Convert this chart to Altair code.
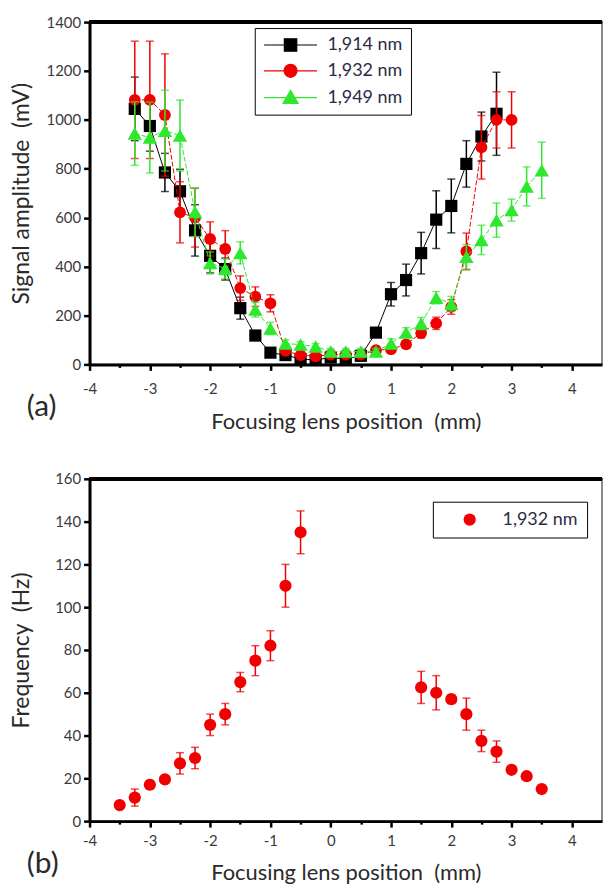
import altair as alt
import pandas as pd

# ---------------- data ----------------
series_names = ["1,914 nm", "1,932 nm", "1,949 nm"]
series_colors = ["#000000", "#f00000", "#2ee82e"]

x_914 = [-3.25, -3, -2.75, -2.5, -2.25, -2, -1.75, -1.5, -1.25, -1, -0.75, -0.5, -0.25,
         0, 0.25, 0.5, 0.75, 1, 1.25, 1.5, 1.75, 2, 2.25, 2.5, 2.75]
y_914 = [1045, 975, 785, 708, 548, 444, 390, 230, 118, 48, 38, 22, 18,
         28, 22, 35, 130, 287, 345, 455, 592, 648, 820, 932, 1025]
e_914 = [130, 103, 78, 90, 105, 70, 45, 45, 20, 15, 12, 10, 10,
         10, 10, 10, 15, 48, 65, 85, 118, 110, 95, 100, 170]

x_932 = [-3.25, -3, -2.75, -2.5, -2.25, -2, -1.75, -1.5, -1.25, -1, -0.75, -0.5, -0.25,
         0, 0.25, 0.5, 0.75, 1, 1.25, 1.5, 1.75, 2, 2.25, 2.5, 2.75, 3]
y_932 = [1082, 1082, 1020, 622, 600, 513, 472, 312, 277, 250, 55, 38, 33,
         40, 40, 40, 58, 62, 82, 128, 168, 235, 462, 888, 1000, 1000]
e_932 = [240, 240, 250, 125, 120, 70, 75, 50, 40, 35, 15, 12, 10,
         10, 10, 10, 12, 15, 15, 20, 25, 30, 75, 130, 115, 115]

x_949 = [-3.25, -3, -2.75, -2.5, -2.25, -2, -1.75, -1.5, -1.25, -1, -0.75, -0.5, -0.25,
         0, 0.25, 0.5, 0.75, 1, 1.25, 1.5, 1.75, 2, 2.25, 2.5, 2.75, 3, 3.25, 3.5]
y_949 = [944, 928, 956, 936, 623, 415, 391, 456, 224, 147, 85, 81, 73,
         53, 53, 53, 53, 85, 130, 167, 273, 248, 440, 509, 590, 631, 728, 794]
e_949 = [130, 145, 165, 145, 100, 45, 40, 45, 30, 25, 15, 12, 12,
         12, 12, 12, 12, 20, 20, 25, 25, 30, 50, 60, 70, 45, 80, 115]

x_freq = [-3.5, -3.25, -3, -2.75, -2.5, -2.25, -2, -1.75, -1.5, -1.25, -1, -0.75, -0.5,
          1.5, 1.75, 2, 2.25, 2.5, 2.75, 3, 3.25, 3.5]
y_freq = [7.5, 11, 17, 19.5, 27, 29.5, 45, 50, 65, 75, 82, 110, 135,
          62.5, 60, 57, 50, 37.5, 32.5, 24, 21, 15]
e_freq = [1.5, 4, 2, 1.5, 5, 5, 5, 5, 4.5, 7, 7, 10, 10,
          7.5, 8, 2, 7.5, 5, 5, 1.5, 1.5, 1.5]

x_tick_values = [-4, -3.5, -3, -2.5, -2, -1.5, -1, -0.5, 0, 0.5, 1, 1.5, 2, 2.5, 3, 3.5, 4]
y_top_ticks = [0, 100, 200, 300, 400, 500, 600, 700, 800, 900, 1000, 1100, 1200, 1300, 1400]
y_bot_ticks = [0, 10, 20, 30, 40, 50, 60, 70, 80, 90, 100, 110, 120, 130, 140, 150, 160]

FONT = "Lato"
TXT = "#3a3a3a"
TITLE_C = "#2a2a2a"


def make_df(xs, ys, es, name):
    return pd.DataFrame({
        "x": xs, "y": ys,
        "lo": [a - b for a, b in zip(ys, es)],
        "hi": [a + b for a, b in zip(ys, es)],
        "series": name,
    })


def x_axis(label_pad, title_y):
    return alt.Axis(
        values=x_tick_values,
        labelExpr="datum.value % 1 === 0 ? '' + datum.value : ''",
        tickSize={"condition": {"test": "datum.value % 1 === 0", "value": 6}, "value": 3},
        tickWidth=2.5, tickColor="black",
        domainWidth=3, domainColor="black",
        labelPadding=label_pad, labelFlush=False, labelOverlap=False,
        labelFont=FONT, labelFontSize=15, labelColor=TXT,
        title="Focusing lens position\u00a0 (mm)",
        titleFont=FONT, titleFontSize=22, titleFontWeight="normal", titleColor=TITLE_C,
        titleY=title_y, titleBaseline="middle",
        grid=False,
    )


def y_axis(values, major, title):
    return alt.Axis(
        values=values,
        labelExpr=f"datum.value % {major} === 0 ? '' + datum.value : ''",
        tickSize={"condition": {"test": f"datum.value % {major} === 0", "value": 6}, "value": 3},
        tickWidth=2.5, tickColor="black",
        domainWidth=3, domainColor="black",
        labelPadding=3, labelFlush=False, labelOverlap=False,
        labelFont=FONT, labelFontSize=15, labelColor=TXT,
        title=title,
        titleFont=FONT, titleFontSize=23, titleFontWeight="normal", titleColor=TITLE_C,
        titleX=-68, titleY=172, titleAngle=270, titleBaseline="middle", titleAlign="center",
        grid=False,
    )


W, H, GAP = 515, 344, 115

# ---------------- top chart ----------------
xs_top = alt.Scale(domain=[-4, 4.5], nice=False, zero=False)
ys_top = alt.Scale(domain=[0, 1400], nice=False, zero=False)
xa_top = x_axis(11, 57)
ya_top = y_axis(y_top_ticks, 200, "Signal amplitude\u00a0 (mV)")

X_top = alt.X("x:Q", scale=xs_top, axis=xa_top)


def series_layers(df, color, shape, size, dash, xenc, yscale, yaxis):
    base = alt.Chart(df)
    Y = alt.Y("y:Q", scale=yscale, axis=yaxis)
    layers = []
    if dash is not None:
        line = base.mark_line(color=color, strokeWidth=1, strokeDash=dash).encode(x=xenc, y=Y)
    else:
        line = base.mark_line(color=color, strokeWidth=1).encode(x=xenc, y=Y)
    layers.append(line)
    layers.append(base.mark_rule(color=color, strokeWidth=1.5).encode(
        x=xenc, y=alt.Y("lo:Q", scale=yscale, axis=yaxis), y2="hi:Q"))
    layers.append(base.mark_tick(color=color, orient="horizontal", size=8, thickness=1.5).encode(
        x=xenc, y=alt.Y("lo:Q", scale=yscale, axis=yaxis)))
    layers.append(base.mark_tick(color=color, orient="horizontal", size=8, thickness=1.5).encode(
        x=xenc, y=alt.Y("hi:Q", scale=yscale, axis=yaxis)))
    layers.append(base.mark_point(filled=True, shape=shape, size=size, color=color, opacity=1,
                                  strokeWidth=0).encode(x=xenc, y=Y))
    return layers


df914 = make_df(x_914, y_914, e_914, series_names[0])
df932 = make_df(x_932, y_932, e_932, series_names[1])
df949 = make_df(x_949, y_949, e_949, series_names[2])

top_layers = []
top_layers += series_layers(df914, series_colors[0], "square", 150, None, X_top, ys_top, ya_top)
top_layers += series_layers(df932, series_colors[1], "circle", 140, [5, 2], X_top, ys_top, ya_top)
top_layers += series_layers(df949, series_colors[2], "triangle-up", 210, [5, 2], X_top, ys_top, ya_top)

# thick top frame line
top_layers.append(alt.Chart(df914).mark_rule(color="black", strokeWidth=3).encode(
    y=alt.datum(1400, scale=ys_top)))

# legend-only layer (marks clipped out of view), symbols = line + marker
leg_paths = [
    "M-3.8,0H3.8M-0.89,-0.89H0.89V0.89H-0.89Z",
    "M-3.8,0H3.8M-0.93,0A0.93,0.93,0,1,0,0.93,0A0.93,0.93,0,1,0,-0.93,0Z",
    "M-3.8,0H3.8M0,-1.05L1.08,0.8L-1.08,0.8Z",
]
df_all = pd.concat([df914, df932, df949])
leg_common = dict(orient="none", legendX=166, legendY=6, title=None,
                  symbolSize=196, symbolStrokeWidth=1.2, symbolOpacity=1,
                  symbolOffset=19, labelOffset=28, rowPadding=8, padding=8,
                  labelFont=FONT, labelFontSize=18, labelColor="#2b2b45",
                  strokeColor="black", fillColor="white")
legend_layer = alt.Chart(df_all).mark_point(filled=True, clip=True, opacity=1).encode(
    x=X_top,
    y=alt.datum(-600, scale=ys_top),
    fill=alt.Fill("series:N", scale=alt.Scale(domain=series_names, range=series_colors),
                  legend=alt.Legend(**leg_common)),
    stroke=alt.Stroke("series:N", scale=alt.Scale(domain=series_names, range=series_colors),
                      legend=alt.Legend(**leg_common)),
    shape=alt.Shape("series:N", scale=alt.Scale(domain=series_names, range=leg_paths),
                    legend=alt.Legend(**leg_common)),
)
top_layers.append(legend_layer)

top = alt.layer(*top_layers).properties(
    width=W, height=H,
    title=alt.Title("(a)", orient="bottom", anchor="start", frame="group", offset=-40, dx=-63,
                    fontSize=30, font=FONT, fontWeight="normal", color=TITLE_C),
)

# ---------------- bottom chart ----------------
xs_bot = alt.Scale(domain=[-4, 4.5], nice=False, zero=False)
ys_bot = alt.Scale(domain=[0, 160], nice=False, zero=False)
xa_bot = x_axis(6, 52)
ya_bot = y_axis(y_bot_ticks, 20, "Frequency\u00a0 (Hz)")
X_bot = alt.X("x:Q", scale=xs_bot, axis=xa_bot)

dff = make_df(x_freq, y_freq, e_freq, series_names[1])
bot_base = alt.Chart(dff)
bot_layers = [
    bot_base.mark_rule(color=series_colors[1], strokeWidth=1.5).encode(
        x=X_bot, y=alt.Y("lo:Q", scale=ys_bot, axis=ya_bot), y2="hi:Q"),
    bot_base.mark_tick(color=series_colors[1], orient="horizontal", size=8, thickness=1.5).encode(
        x=X_bot, y=alt.Y("lo:Q", scale=ys_bot, axis=ya_bot)),
    bot_base.mark_tick(color=series_colors[1], orient="horizontal", size=8, thickness=1.5).encode(
        x=X_bot, y=alt.Y("hi:Q", scale=ys_bot, axis=ya_bot)),
    bot_base.mark_point(filled=True, shape="circle", size=150, opacity=1, strokeWidth=0).encode(
        x=X_bot, y=alt.Y("y:Q", scale=ys_bot, axis=ya_bot),
        color=alt.Color("series:N", scale=alt.Scale(domain=[series_names[1]], range=[series_colors[1]]),
                        legend=alt.Legend(orient="none", legendX=345, legendY=H + GAP + 23, title=None,
                                          symbolType="circle", symbolSize=150, symbolOpacity=1,
                                          symbolOffset=19, labelOffset=24, padding=9,
                                          labelFont=FONT, labelFontSize=18, labelColor="#2b2b45",
                                          strokeColor="black", fillColor="white")),
    ),
    alt.Chart(dff).mark_rule(color="black", strokeWidth=3).encode(y=alt.datum(160, scale=ys_bot)),
]
bottom = alt.layer(*bot_layers).properties(
    width=W, height=H,
    title=alt.Title("(b)", orient="bottom", anchor="start", frame="group", offset=-35, dx=-63,
                    fontSize=30, font=FONT, fontWeight="normal", color=TITLE_C),
)

chart = alt.vconcat(top, bottom, spacing=GAP, bounds="flush").properties(
    padding={"left": 10, "top": 12, "right": 0, "bottom": 0},
    background="white",
).configure_view(stroke="#666666", strokeWidth=1.5)

chart.save("out.html", embed_options={"renderer": "svg", "actions": False})
